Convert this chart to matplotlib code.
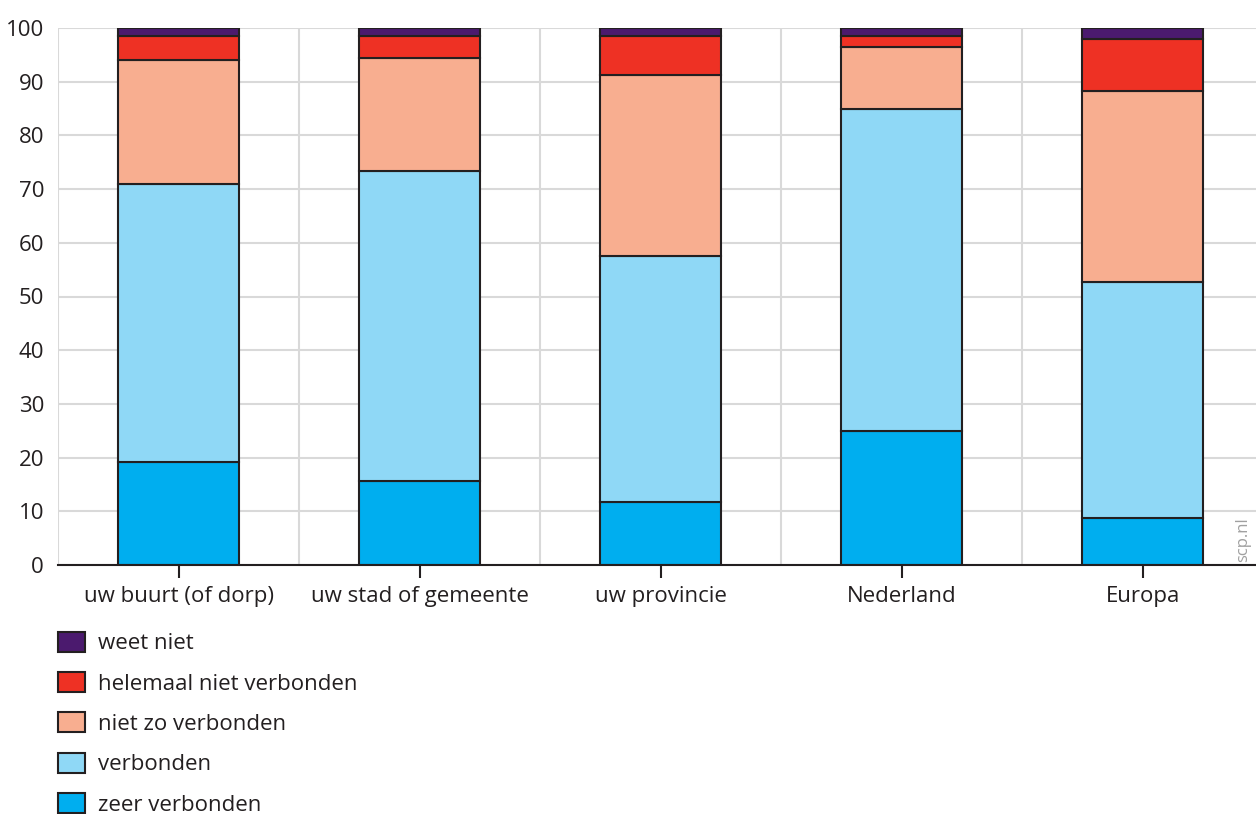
import numpy as np
import matplotlib
matplotlib.use('Agg')
import matplotlib.pyplot as plt
from matplotlib.patches import Patch

# Data (percentages)
categories = ['uw buurt (of dorp)', 'uw stad of gemeente', 'uw provincie', 'Nederland', 'Europa']
zeer_verbonden = [19.2, 15.6, 11.7, 25.0, 8.8]
verbonden = [51.7, 57.8, 45.8, 60.0, 43.9]
niet_zo_verbonden = [23.1, 21.0, 33.7, 11.5, 35.6]
helemaal_niet_verbonden = [4.5, 4.1, 7.3, 2.0, 9.6]
weet_niet = [1.5, 1.5, 1.5, 1.5, 2.1]

series_names = ['zeer verbonden', 'verbonden', 'niet zo verbonden',
                'helemaal niet verbonden', 'weet niet']
series_values = [zeer_verbonden, verbonden, niet_zo_verbonden,
                 helemaal_niet_verbonden, weet_niet]
colors = ['#00aeef', '#8fd8f6', '#f8ae90', '#ee3124', '#4b1a6e']
edge = '#231f20'

plt.rcParams['font.family'] = ['Open Sans', 'DejaVu Sans']

fig = plt.figure(figsize=(12.56, 8.14), dpi=100)
ax = fig.add_axes([58 / 1256, 1 - 565 / 814, 1 - 58 / 1256, (565 - 28) / 814])

x = np.arange(len(categories))
bottom = np.zeros(len(categories))
for name, vals, col in zip(series_names, series_values, colors):
    ax.bar(x, vals, width=0.5, bottom=bottom, color=col, edgecolor=edge,
           linewidth=1.5, zorder=3, label=name)
    bottom += np.array(vals)

ax.set_xlim(-0.5, 4.47)
ax.set_ylim(0, 100)
ax.set_yticks(range(0, 101, 10))
ax.set_xticks(x)
ax.set_xticklabels(categories)
ax.set_xticks(np.arange(-0.5, 4.5, 1), minor=True)

ax.grid(axis='y', color='#d9d9d9', linewidth=1.5, zorder=0)
ax.grid(axis='x', which='minor', color='#d9d9d9', linewidth=1.5, zorder=0)
ax.grid(axis='x', which='major', visible=False)

for s in ['top', 'right', 'left']:
    ax.spines[s].set_visible(False)
ax.spines['bottom'].set_color(edge)
ax.spines['bottom'].set_linewidth(1.5)
ax.spines['bottom'].set_zorder(4)

ax.tick_params(axis='y', length=0, pad=10, labelsize=16, labelcolor='#231f20')
ax.tick_params(axis='x', which='major', length=9, width=1.5, color=edge,
               pad=6, labelsize=16, labelcolor='#231f20')
ax.tick_params(axis='x', which='minor', length=0)

fig.text(1243 / 1256, 1 - 540 / 814, 'scp.nl', rotation=90, ha='center', va='center',
         fontsize=12, color='#a0a0a0')

handles = [Patch(facecolor=c, edgecolor=edge, linewidth=1.5) for c in colors[::-1]]
fig.legend(handles, series_names[::-1], loc='upper left',
           bbox_to_anchor=(51 / 1256, 1 - 625 / 814), frameon=False,
           fontsize=16, handlelength=1.25, handleheight=1.0, handletextpad=0.55,
           labelspacing=0.8, labelcolor='#231f20', borderaxespad=0.0,
           borderpad=0.3)

fig.savefig('out.png', dpi=100)
